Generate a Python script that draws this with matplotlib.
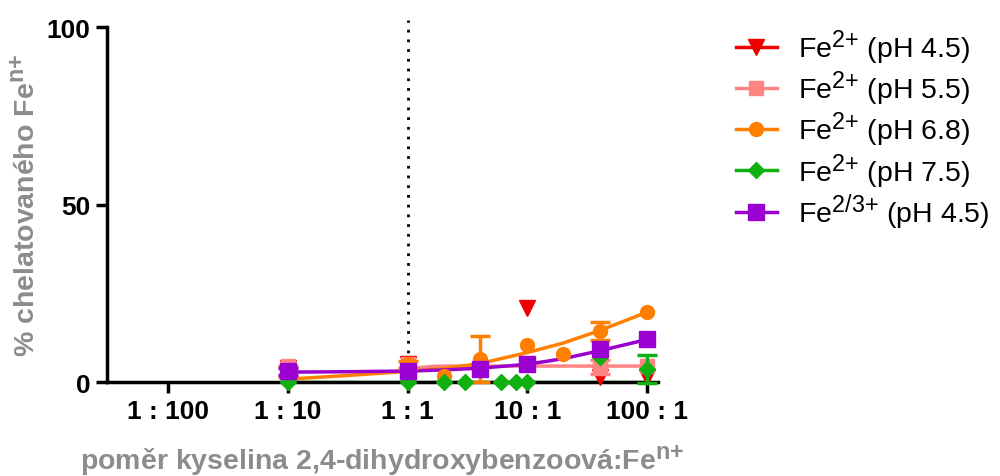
import matplotlib
matplotlib.use("Agg")
import matplotlib.pyplot as plt
import matplotlib._mathtext as _mt
import numpy as np

_mt.SHRINK_FACTOR = 0.82

plt.rcParams['font.family'] = ['Liberation Sans', 'DejaVu Sans']
plt.rcParams['mathtext.fontset'] = 'custom'
plt.rcParams['mathtext.rm'] = 'Liberation Sans'
plt.rcParams['mathtext.it'] = 'Liberation Sans'
plt.rcParams['mathtext.bf'] = 'Liberation Sans:bold'

# ratio acid : Fe (as numeric ratio)
tick_pos = [0.01, 0.1, 1, 10, 100]
tick_labels = ["1 : 100", "1 : 10", "1 : 1", "10 : 1", "100 : 1"]

# series data (x ratio, % chelated, error)
red_x = [0.1, 1, 10, 40, 100]
red_y = [4.0, 5.0, 21.0, 1.5, 1.5]
red_e = [0, 0, 0, 0, 0]

pink_x = [0.1, 1, 40, 100]
pink_y = [4.5, 5.0, 4.2, 4.5]
pink_e = [0, 0, 2.0, 0]

orange_x = [0.1, 1, 2, 4, 10, 20, 40, 100]
orange_y = [3.0, 5.0, 1.7, 6.5, 10.5, 7.9, 14.4, 19.7]
orange_e = [1.5, 1.0, 0, 6.5, 0, 0, 2.5, 0]

green_x = [0.1, 1, 2, 3, 6, 8, 10, 40, 100]
green_y = [0, 0, 0, 0, 0, 0, 0, 7.0, 3.7]
green_e = [0, 0, 0, 0, 0, 0, 0, 0, 4.0]

purple_x = [0.1, 1, 4, 10, 40, 100]
purple_y = [3.0, 3.0, 3.8, 5.0, 9.3, 12.0]
purple_e = [1.0, 0, 0, 0, 0, 0]

# fitted curves
pink_fit_x = [1, 1.3, 1.6, 2, 5, 10, 100]
pink_fit_y = [3.5, 4.1, 4.4, 4.5, 4.5, 4.5, 4.5]
orange_fit_x = [0.1, 0.3, 1, 2, 4, 10, 20, 40, 100]
orange_fit_y = [0.8, 1.8, 3.0, 3.8, 5.2, 8.3, 11.0, 14.5, 19.7]
purple_fit_x = [0.1, 0.3, 1, 2, 4, 10, 20, 40, 100]
purple_fit_y = [2.8, 2.9, 3.1, 3.4, 3.9, 5.0, 6.6, 8.8, 12.0]
green_fit_x = [0.1, 100]
green_fit_y = [0.0, 0.0]

labels = ["Fe$^{\\mathrm{2{+}}}$ (pH 4.5)", "Fe$^{\\mathrm{2{+}}}$ (pH 5.5)", "Fe$^{\\mathrm{2{+}}}$ (pH 6.8)",
          "Fe$^{\\mathrm{2{+}}}$ (pH 7.5)", "Fe$^{\\mathrm{2/3{+}}}$ (pH 4.5)"]
colors = ["#EE0000", "#FF8585", "#FF8000", "#10B010", "#9A00D0"]
markers = ["v", "s", "o", "D", "s"]
msizes = [12, 10, 10, 8, 11]

fig = plt.figure(figsize=(10, 4.77), dpi=100)
ax = fig.add_axes([0.107, 0.197, 0.551, 0.744])

ax.axvline(1, color="black", linestyle=(0, (1, 2.5)), linewidth=2, ymax=1.02, clip_on=False, zorder=1)

series = [
    (red_x, red_y, red_e, None, None),
    (pink_x, pink_y, pink_e, pink_fit_x, pink_fit_y),
    (orange_x, orange_y, orange_e, orange_fit_x, orange_fit_y),
    (green_x, green_y, green_e, green_fit_x, green_fit_y),
    (purple_x, purple_y, purple_e, purple_fit_x, purple_fit_y),
]

handles = []
for (xs, ys, es, fx, fy), c, m, ms, lab in zip(series, colors, markers, msizes, labels):
    xs_a, ys_a, es_a = np.array(xs), np.array(ys), np.array(es)
    sel = es_a > 0
    if sel.any():
        ax.errorbar(xs_a[sel], ys_a[sel], yerr=es_a[sel], fmt="none", ecolor=c, capsize=7,
                    elinewidth=2.5, capthick=2.5, clip_on=False, zorder=3)
    ax.plot(xs_a, ys_a, linestyle="none", marker=m, color=c, markersize=ms, clip_on=False, zorder=3)
    if fx is not None:
        ax.plot(fx, fy, color=c, linewidth=2.5, zorder=2)
    h, = ax.plot([], [], color=c, marker=m, markersize=ms, linewidth=2.5, label=lab)
    handles.append(h)

ax.set_xscale("log")
ax.set_xlim(10 ** -2.508, 10 ** 2.09)
ax.set_ylim(0, 100)
ax.set_xticks(tick_pos)
ax.set_xticklabels(tick_labels, fontsize=19, fontweight="bold")
ax.xaxis.set_minor_locator(matplotlib.ticker.NullLocator())
ax.set_yticks([0, 50, 100])
ax.set_yticklabels(["0", "50", "100"], fontsize=19, fontweight="bold")
for s in ["top", "right"]:
    ax.spines[s].set_visible(False)
for s in ["left", "bottom"]:
    ax.spines[s].set_linewidth(2.5)
ax.tick_params(axis="both", width=2.5, length=8, direction="out", pad=4)

ax.set_ylabel("% chelatovaného Fe$^{\\mathbf{n{+}}}$", fontsize=20.5, fontweight="bold", color="#8C8C8C", labelpad=4)
ax.set_xlabel("poměr kyselina 2,4-dihydroxybenzoová:Fe$^{\\mathbf{n{+}}}$", fontsize=20.5, fontweight="bold", color="#8C8C8C", labelpad=14)

fig.legend(handles=handles, loc="upper left", bbox_to_anchor=(0.71, 0.995), frameon=False,
           fontsize=20.5, handlelength=1.45, labelspacing=0.08, handletextpad=0.75)

fig.savefig("out.png", dpi=100)
